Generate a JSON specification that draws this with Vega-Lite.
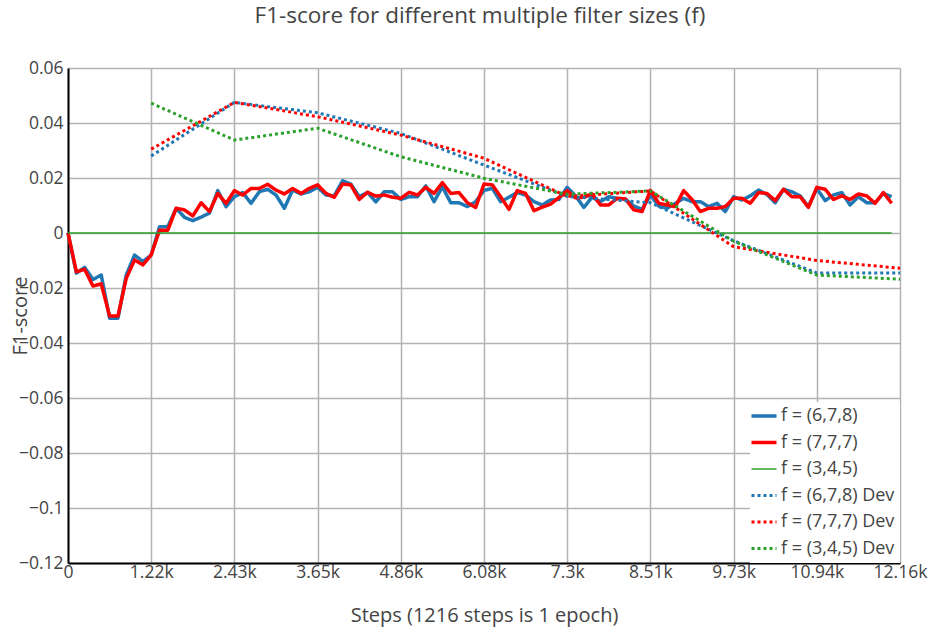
{
  "$schema": "https://vega.github.io/schema/vega-lite/v6.json",
  "width": 832,
  "height": 495,
  "autosize": {"type": "none"},
  "padding": {"left": 68, "top": 68, "right": 30, "bottom": 66},
  "background": "white",
  "config": {"view": {"stroke": null}, "font": "Open Sans"},
  "title": {"text": "F1-score for different multiple filter sizes (f)", "font": "Open Sans", "fontSize": 22.5, "fontWeight": "normal", "color": "#444", "anchor": "middle", "baseline": "alphabetic", "offset": 14, "dx": -4},
  "data": {"values": [
    {"series":"f = (6,7,8)","step":0,"f1":0},{"series":"f = (6,7,8)","step":122,"f1":-0.0146},{"series":"f = (6,7,8)","step":243,"f1":-0.0125},{"series":"f = (6,7,8)","step":365,"f1":-0.0169},{"series":"f = (6,7,8)","step":486,"f1":-0.0153},{"series":"f = (6,7,8)","step":608,"f1":-0.031},{"series":"f = (6,7,8)","step":730,"f1":-0.031},{"series":"f = (6,7,8)","step":851,"f1":-0.0153},{"series":"f = (6,7,8)","step":973,"f1":-0.008},{"series":"f = (6,7,8)","step":1094,"f1":-0.0104},
    {"series":"f = (6,7,8)","step":1216,"f1":-0.008},{"series":"f = (6,7,8)","step":1338,"f1":0.0023},{"series":"f = (6,7,8)","step":1459,"f1":0.0023},{"series":"f = (6,7,8)","step":1581,"f1":0.009},{"series":"f = (6,7,8)","step":1702,"f1":0.0057},{"series":"f = (6,7,8)","step":1824,"f1":0.0045},{"series":"f = (6,7,8)","step":1946,"f1":0.0058},{"series":"f = (6,7,8)","step":2067,"f1":0.0072},{"series":"f = (6,7,8)","step":2189,"f1":0.0154},{"series":"f = (6,7,8)","step":2310,"f1":0.0096},
    {"series":"f = (6,7,8)","step":2432,"f1":0.0132},{"series":"f = (6,7,8)","step":2554,"f1":0.0147},{"series":"f = (6,7,8)","step":2675,"f1":0.0108},{"series":"f = (6,7,8)","step":2797,"f1":0.015},{"series":"f = (6,7,8)","step":2918,"f1":0.0159},{"series":"f = (6,7,8)","step":3040,"f1":0.0138},{"series":"f = (6,7,8)","step":3162,"f1":0.009},{"series":"f = (6,7,8)","step":3283,"f1":0.0156},{"series":"f = (6,7,8)","step":3405,"f1":0.0142},{"series":"f = (6,7,8)","step":3526,"f1":0.015},
    {"series":"f = (6,7,8)","step":3648,"f1":0.0166},{"series":"f = (6,7,8)","step":3770,"f1":0.0138},{"series":"f = (6,7,8)","step":3891,"f1":0.0135},{"series":"f = (6,7,8)","step":4013,"f1":0.019},{"series":"f = (6,7,8)","step":4134,"f1":0.0178},{"series":"f = (6,7,8)","step":4256,"f1":0.0132},{"series":"f = (6,7,8)","step":4378,"f1":0.0148},{"series":"f = (6,7,8)","step":4499,"f1":0.0113},{"series":"f = (6,7,8)","step":4621,"f1":0.015},{"series":"f = (6,7,8)","step":4742,"f1":0.015},
    {"series":"f = (6,7,8)","step":4864,"f1":0.0122},{"series":"f = (6,7,8)","step":4986,"f1":0.0132},{"series":"f = (6,7,8)","step":5107,"f1":0.0132},{"series":"f = (6,7,8)","step":5229,"f1":0.0171},{"series":"f = (6,7,8)","step":5350,"f1":0.0114},{"series":"f = (6,7,8)","step":5472,"f1":0.0168},{"series":"f = (6,7,8)","step":5594,"f1":0.011},{"series":"f = (6,7,8)","step":5715,"f1":0.011},{"series":"f = (6,7,8)","step":5837,"f1":0.0096},{"series":"f = (6,7,8)","step":5958,"f1":0.0114},
    {"series":"f = (6,7,8)","step":6080,"f1":0.0155},{"series":"f = (6,7,8)","step":6202,"f1":0.0162},{"series":"f = (6,7,8)","step":6323,"f1":0.0114},{"series":"f = (6,7,8)","step":6445,"f1":0.013},{"series":"f = (6,7,8)","step":6566,"f1":0.0147},{"series":"f = (6,7,8)","step":6688,"f1":0.0138},{"series":"f = (6,7,8)","step":6810,"f1":0.0114},{"series":"f = (6,7,8)","step":6931,"f1":0.0102},{"series":"f = (6,7,8)","step":7053,"f1":0.012},{"series":"f = (6,7,8)","step":7174,"f1":0.0122},
    {"series":"f = (6,7,8)","step":7296,"f1":0.0166},{"series":"f = (6,7,8)","step":7418,"f1":0.0135},{"series":"f = (6,7,8)","step":7539,"f1":0.0093},{"series":"f = (6,7,8)","step":7661,"f1":0.013},{"series":"f = (6,7,8)","step":7782,"f1":0.0114},{"series":"f = (6,7,8)","step":7904,"f1":0.0132},{"series":"f = (6,7,8)","step":8026,"f1":0.0126},{"series":"f = (6,7,8)","step":8147,"f1":0.0123},{"series":"f = (6,7,8)","step":8269,"f1":0.0098},{"series":"f = (6,7,8)","step":8390,"f1":0.0086},
    {"series":"f = (6,7,8)","step":8512,"f1":0.0138},{"series":"f = (6,7,8)","step":8634,"f1":0.0098},{"series":"f = (6,7,8)","step":8755,"f1":0.009},{"series":"f = (6,7,8)","step":8877,"f1":0.0108},{"series":"f = (6,7,8)","step":8998,"f1":0.0126},{"series":"f = (6,7,8)","step":9120,"f1":0.0114},{"series":"f = (6,7,8)","step":9242,"f1":0.0114},{"series":"f = (6,7,8)","step":9363,"f1":0.0096},{"series":"f = (6,7,8)","step":9485,"f1":0.0108},{"series":"f = (6,7,8)","step":9606,"f1":0.0078},
    {"series":"f = (6,7,8)","step":9728,"f1":0.0132},{"series":"f = (6,7,8)","step":9850,"f1":0.012},{"series":"f = (6,7,8)","step":9971,"f1":0.0135},{"series":"f = (6,7,8)","step":10093,"f1":0.0156},{"series":"f = (6,7,8)","step":10214,"f1":0.014},{"series":"f = (6,7,8)","step":10336,"f1":0.011},{"series":"f = (6,7,8)","step":10458,"f1":0.0159},{"series":"f = (6,7,8)","step":10579,"f1":0.015},{"series":"f = (6,7,8)","step":10701,"f1":0.0135},{"series":"f = (6,7,8)","step":10822,"f1":0.0096},
    {"series":"f = (6,7,8)","step":10944,"f1":0.0162},{"series":"f = (6,7,8)","step":11066,"f1":0.0118},{"series":"f = (6,7,8)","step":11187,"f1":0.0138},{"series":"f = (6,7,8)","step":11309,"f1":0.0147},{"series":"f = (6,7,8)","step":11430,"f1":0.0102},{"series":"f = (6,7,8)","step":11552,"f1":0.0132},{"series":"f = (6,7,8)","step":11674,"f1":0.011},{"series":"f = (6,7,8)","step":11795,"f1":0.011},{"series":"f = (6,7,8)","step":11917,"f1":0.0144},{"series":"f = (6,7,8)","step":12038,"f1":0.0132},

    {"series":"f = (7,7,7)","step":0,"f1":0},{"series":"f = (7,7,7)","step":122,"f1":-0.0141},{"series":"f = (7,7,7)","step":243,"f1":-0.0132},{"series":"f = (7,7,7)","step":365,"f1":-0.0193},{"series":"f = (7,7,7)","step":486,"f1":-0.0185},{"series":"f = (7,7,7)","step":608,"f1":-0.0302},{"series":"f = (7,7,7)","step":730,"f1":-0.0302},{"series":"f = (7,7,7)","step":851,"f1":-0.0165},{"series":"f = (7,7,7)","step":973,"f1":-0.0098},{"series":"f = (7,7,7)","step":1094,"f1":-0.0116},
    {"series":"f = (7,7,7)","step":1216,"f1":-0.008},{"series":"f = (7,7,7)","step":1338,"f1":0.001},{"series":"f = (7,7,7)","step":1459,"f1":0.001},{"series":"f = (7,7,7)","step":1581,"f1":0.009},{"series":"f = (7,7,7)","step":1702,"f1":0.0084},{"series":"f = (7,7,7)","step":1824,"f1":0.0062},{"series":"f = (7,7,7)","step":1946,"f1":0.011},{"series":"f = (7,7,7)","step":2067,"f1":0.0078},{"series":"f = (7,7,7)","step":2189,"f1":0.0144},{"series":"f = (7,7,7)","step":2310,"f1":0.0108},
    {"series":"f = (7,7,7)","step":2432,"f1":0.0154},{"series":"f = (7,7,7)","step":2554,"f1":0.0138},{"series":"f = (7,7,7)","step":2675,"f1":0.0162},{"series":"f = (7,7,7)","step":2797,"f1":0.0162},{"series":"f = (7,7,7)","step":2918,"f1":0.0177},{"series":"f = (7,7,7)","step":3040,"f1":0.0156},{"series":"f = (7,7,7)","step":3162,"f1":0.0142},{"series":"f = (7,7,7)","step":3283,"f1":0.0162},{"series":"f = (7,7,7)","step":3405,"f1":0.0144},{"series":"f = (7,7,7)","step":3526,"f1":0.0162},
    {"series":"f = (7,7,7)","step":3648,"f1":0.0175},{"series":"f = (7,7,7)","step":3770,"f1":0.0144},{"series":"f = (7,7,7)","step":3891,"f1":0.013},{"series":"f = (7,7,7)","step":4013,"f1":0.0178},{"series":"f = (7,7,7)","step":4134,"f1":0.0175},{"series":"f = (7,7,7)","step":4256,"f1":0.0122},{"series":"f = (7,7,7)","step":4378,"f1":0.0148},{"series":"f = (7,7,7)","step":4499,"f1":0.0134},{"series":"f = (7,7,7)","step":4621,"f1":0.0138},{"series":"f = (7,7,7)","step":4742,"f1":0.013},
    {"series":"f = (7,7,7)","step":4864,"f1":0.0126},{"series":"f = (7,7,7)","step":4986,"f1":0.0148},{"series":"f = (7,7,7)","step":5107,"f1":0.0138},{"series":"f = (7,7,7)","step":5229,"f1":0.0166},{"series":"f = (7,7,7)","step":5350,"f1":0.0144},{"series":"f = (7,7,7)","step":5472,"f1":0.0183},{"series":"f = (7,7,7)","step":5594,"f1":0.0144},{"series":"f = (7,7,7)","step":5715,"f1":0.0147},{"series":"f = (7,7,7)","step":5837,"f1":0.011},{"series":"f = (7,7,7)","step":5958,"f1":0.0093},
    {"series":"f = (7,7,7)","step":6080,"f1":0.0178},{"series":"f = (7,7,7)","step":6202,"f1":0.0175},{"series":"f = (7,7,7)","step":6323,"f1":0.0132},{"series":"f = (7,7,7)","step":6445,"f1":0.0086},{"series":"f = (7,7,7)","step":6566,"f1":0.0154},{"series":"f = (7,7,7)","step":6688,"f1":0.0144},{"series":"f = (7,7,7)","step":6810,"f1":0.0081},{"series":"f = (7,7,7)","step":6931,"f1":0.0094},{"series":"f = (7,7,7)","step":7053,"f1":0.0105},{"series":"f = (7,7,7)","step":7174,"f1":0.0129},
    {"series":"f = (7,7,7)","step":7296,"f1":0.0154},{"series":"f = (7,7,7)","step":7418,"f1":0.0128},{"series":"f = (7,7,7)","step":7539,"f1":0.013},{"series":"f = (7,7,7)","step":7661,"f1":0.0142},{"series":"f = (7,7,7)","step":7782,"f1":0.0102},{"series":"f = (7,7,7)","step":7904,"f1":0.0102},{"series":"f = (7,7,7)","step":8026,"f1":0.0126},{"series":"f = (7,7,7)","step":8147,"f1":0.0124},{"series":"f = (7,7,7)","step":8269,"f1":0.0084},{"series":"f = (7,7,7)","step":8390,"f1":0.0078},
    {"series":"f = (7,7,7)","step":8512,"f1":0.0155},{"series":"f = (7,7,7)","step":8634,"f1":0.0108},{"series":"f = (7,7,7)","step":8755,"f1":0.0102},{"series":"f = (7,7,7)","step":8877,"f1":0.0096},{"series":"f = (7,7,7)","step":8998,"f1":0.0154},{"series":"f = (7,7,7)","step":9120,"f1":0.0122},{"series":"f = (7,7,7)","step":9242,"f1":0.0078},{"series":"f = (7,7,7)","step":9363,"f1":0.009},{"series":"f = (7,7,7)","step":9485,"f1":0.009},{"series":"f = (7,7,7)","step":9606,"f1":0.0096},
    {"series":"f = (7,7,7)","step":9728,"f1":0.0126},{"series":"f = (7,7,7)","step":9850,"f1":0.0126},{"series":"f = (7,7,7)","step":9971,"f1":0.0108},{"series":"f = (7,7,7)","step":10093,"f1":0.0147},{"series":"f = (7,7,7)","step":10214,"f1":0.0144},{"series":"f = (7,7,7)","step":10336,"f1":0.0118},{"series":"f = (7,7,7)","step":10458,"f1":0.0159},{"series":"f = (7,7,7)","step":10579,"f1":0.0132},{"series":"f = (7,7,7)","step":10701,"f1":0.0132},{"series":"f = (7,7,7)","step":10822,"f1":0.0093},
    {"series":"f = (7,7,7)","step":10944,"f1":0.0166},{"series":"f = (7,7,7)","step":11066,"f1":0.0159},{"series":"f = (7,7,7)","step":11187,"f1":0.0122},{"series":"f = (7,7,7)","step":11309,"f1":0.0135},{"series":"f = (7,7,7)","step":11430,"f1":0.0122},{"series":"f = (7,7,7)","step":11552,"f1":0.0142},{"series":"f = (7,7,7)","step":11674,"f1":0.0135},{"series":"f = (7,7,7)","step":11795,"f1":0.0108},{"series":"f = (7,7,7)","step":11917,"f1":0.0147},{"series":"f = (7,7,7)","step":12038,"f1":0.0108},

    {"series":"f = (3,4,5)","step":0,"f1":0},{"series":"f = (3,4,5)","step":122,"f1":0},{"series":"f = (3,4,5)","step":243,"f1":0},{"series":"f = (3,4,5)","step":365,"f1":0},{"series":"f = (3,4,5)","step":486,"f1":0},{"series":"f = (3,4,5)","step":608,"f1":0},{"series":"f = (3,4,5)","step":730,"f1":0},{"series":"f = (3,4,5)","step":851,"f1":0},{"series":"f = (3,4,5)","step":973,"f1":0},{"series":"f = (3,4,5)","step":1094,"f1":0},
    {"series":"f = (3,4,5)","step":1216,"f1":0},{"series":"f = (3,4,5)","step":1338,"f1":0},{"series":"f = (3,4,5)","step":1459,"f1":0},{"series":"f = (3,4,5)","step":1581,"f1":0},{"series":"f = (3,4,5)","step":1702,"f1":0},{"series":"f = (3,4,5)","step":1824,"f1":0},{"series":"f = (3,4,5)","step":1946,"f1":0},{"series":"f = (3,4,5)","step":2067,"f1":0},{"series":"f = (3,4,5)","step":2189,"f1":0},{"series":"f = (3,4,5)","step":2310,"f1":0},
    {"series":"f = (3,4,5)","step":2432,"f1":0},{"series":"f = (3,4,5)","step":2554,"f1":0},{"series":"f = (3,4,5)","step":2675,"f1":0},{"series":"f = (3,4,5)","step":2797,"f1":0},{"series":"f = (3,4,5)","step":2918,"f1":0},{"series":"f = (3,4,5)","step":3040,"f1":0},{"series":"f = (3,4,5)","step":3162,"f1":0},{"series":"f = (3,4,5)","step":3283,"f1":0},{"series":"f = (3,4,5)","step":3405,"f1":0},{"series":"f = (3,4,5)","step":3526,"f1":0},
    {"series":"f = (3,4,5)","step":3648,"f1":0},{"series":"f = (3,4,5)","step":3770,"f1":0},{"series":"f = (3,4,5)","step":3891,"f1":0},{"series":"f = (3,4,5)","step":4013,"f1":0},{"series":"f = (3,4,5)","step":4134,"f1":0},{"series":"f = (3,4,5)","step":4256,"f1":0},{"series":"f = (3,4,5)","step":4378,"f1":0},{"series":"f = (3,4,5)","step":4499,"f1":0},{"series":"f = (3,4,5)","step":4621,"f1":0},{"series":"f = (3,4,5)","step":4742,"f1":0},
    {"series":"f = (3,4,5)","step":4864,"f1":0},{"series":"f = (3,4,5)","step":4986,"f1":0},{"series":"f = (3,4,5)","step":5107,"f1":0},{"series":"f = (3,4,5)","step":5229,"f1":0},{"series":"f = (3,4,5)","step":5350,"f1":0},{"series":"f = (3,4,5)","step":5472,"f1":0},{"series":"f = (3,4,5)","step":5594,"f1":0},{"series":"f = (3,4,5)","step":5715,"f1":0},{"series":"f = (3,4,5)","step":5837,"f1":0},{"series":"f = (3,4,5)","step":5958,"f1":0},
    {"series":"f = (3,4,5)","step":6080,"f1":0},{"series":"f = (3,4,5)","step":6202,"f1":0},{"series":"f = (3,4,5)","step":6323,"f1":0},{"series":"f = (3,4,5)","step":6445,"f1":0},{"series":"f = (3,4,5)","step":6566,"f1":0},{"series":"f = (3,4,5)","step":6688,"f1":0},{"series":"f = (3,4,5)","step":6810,"f1":0},{"series":"f = (3,4,5)","step":6931,"f1":0},{"series":"f = (3,4,5)","step":7053,"f1":0},{"series":"f = (3,4,5)","step":7174,"f1":0},
    {"series":"f = (3,4,5)","step":7296,"f1":0},{"series":"f = (3,4,5)","step":7418,"f1":0},{"series":"f = (3,4,5)","step":7539,"f1":0},{"series":"f = (3,4,5)","step":7661,"f1":0},{"series":"f = (3,4,5)","step":7782,"f1":0},{"series":"f = (3,4,5)","step":7904,"f1":0},{"series":"f = (3,4,5)","step":8026,"f1":0},{"series":"f = (3,4,5)","step":8147,"f1":0},{"series":"f = (3,4,5)","step":8269,"f1":0},{"series":"f = (3,4,5)","step":8390,"f1":0},
    {"series":"f = (3,4,5)","step":8512,"f1":0},{"series":"f = (3,4,5)","step":8634,"f1":0},{"series":"f = (3,4,5)","step":8755,"f1":0},{"series":"f = (3,4,5)","step":8877,"f1":0},{"series":"f = (3,4,5)","step":8998,"f1":0},{"series":"f = (3,4,5)","step":9120,"f1":0},{"series":"f = (3,4,5)","step":9242,"f1":0},{"series":"f = (3,4,5)","step":9363,"f1":0},{"series":"f = (3,4,5)","step":9485,"f1":0},{"series":"f = (3,4,5)","step":9606,"f1":0},
    {"series":"f = (3,4,5)","step":9728,"f1":0},{"series":"f = (3,4,5)","step":9850,"f1":0},{"series":"f = (3,4,5)","step":9971,"f1":0},{"series":"f = (3,4,5)","step":10093,"f1":0},{"series":"f = (3,4,5)","step":10214,"f1":0},{"series":"f = (3,4,5)","step":10336,"f1":0},{"series":"f = (3,4,5)","step":10458,"f1":0},{"series":"f = (3,4,5)","step":10579,"f1":0},{"series":"f = (3,4,5)","step":10701,"f1":0},{"series":"f = (3,4,5)","step":10822,"f1":0},
    {"series":"f = (3,4,5)","step":10944,"f1":0},{"series":"f = (3,4,5)","step":11066,"f1":0},{"series":"f = (3,4,5)","step":11187,"f1":0},{"series":"f = (3,4,5)","step":11309,"f1":0},{"series":"f = (3,4,5)","step":11430,"f1":0},{"series":"f = (3,4,5)","step":11552,"f1":0},{"series":"f = (3,4,5)","step":11674,"f1":0},{"series":"f = (3,4,5)","step":11795,"f1":0},{"series":"f = (3,4,5)","step":11917,"f1":0},{"series":"f = (3,4,5)","step":12038,"f1":0},

    {"series":"f = (6,7,8) Dev","step":1216,"f1":0.028},{"series":"f = (6,7,8) Dev","step":2432,"f1":0.0475},{"series":"f = (6,7,8) Dev","step":3648,"f1":0.0437},{"series":"f = (6,7,8) Dev","step":4864,"f1":0.0362},{"series":"f = (6,7,8) Dev","step":6080,"f1":0.0247},{"series":"f = (6,7,8) Dev","step":7296,"f1":0.0133},{"series":"f = (6,7,8) Dev","step":8512,"f1":0.011},{"series":"f = (6,7,8) Dev","step":9728,"f1":-0.0028},{"series":"f = (6,7,8) Dev","step":10944,"f1":-0.0145},{"series":"f = (6,7,8) Dev","step":12160,"f1":-0.0145},
    {"series":"f = (7,7,7) Dev","step":1216,"f1":0.0305},{"series":"f = (7,7,7) Dev","step":2432,"f1":0.0475},{"series":"f = (7,7,7) Dev","step":3648,"f1":0.0423},{"series":"f = (7,7,7) Dev","step":4864,"f1":0.0356},{"series":"f = (7,7,7) Dev","step":6080,"f1":0.0272},{"series":"f = (7,7,7) Dev","step":7296,"f1":0.0133},{"series":"f = (7,7,7) Dev","step":8512,"f1":0.0153},{"series":"f = (7,7,7) Dev","step":9728,"f1":-0.005},{"series":"f = (7,7,7) Dev","step":10944,"f1":-0.01},{"series":"f = (7,7,7) Dev","step":12160,"f1":-0.0128},
    {"series":"f = (3,4,5) Dev","step":1216,"f1":0.0472},{"series":"f = (3,4,5) Dev","step":2432,"f1":0.0338},{"series":"f = (3,4,5) Dev","step":3648,"f1":0.0381},{"series":"f = (3,4,5) Dev","step":4864,"f1":0.0277},{"series":"f = (3,4,5) Dev","step":6080,"f1":0.0199},{"series":"f = (3,4,5) Dev","step":7296,"f1":0.0141},{"series":"f = (3,4,5) Dev","step":8512,"f1":0.0153},{"series":"f = (3,4,5) Dev","step":9728,"f1":-0.003},{"series":"f = (3,4,5) Dev","step":10944,"f1":-0.0153},{"series":"f = (3,4,5) Dev","step":12160,"f1":-0.0168}
  ]},
  "mark": {"type": "line", "strokeCap": "butt", "strokeJoin": "round"},
  "encoding": {
    "x": {
      "field": "step", "type": "quantitative",
      "scale": {"domain": [0, 12160], "nice": false, "zero": false},
      "axis": {
        "values": [0, 1216, 2432, 3648, 4864, 6080, 7296, 8512, 9728, 10944, 12160],
        "labelExpr": "datum.value == 0 ? '0' : format(datum.value / 1000, '.2~f') + 'k'",
        "title": "Steps (1216 steps is 1 epoch)",
        "grid": true, "gridColor": "#b3b3b3", "gridWidth": 1.5,
        "ticks": false, "tickSize": 0,
        "domainColor": "#000000", "domainWidth": 2,
        "labelFont": "Open Sans", "labelFontSize": 17.5, "labelColor": "#444",
        "labelBaseline": "alphabetic", "labelPadding": 14, "labelFlush": false, "labelOverlap": false,
        "titleFont": "Open Sans", "titleFontSize": 20, "titleFontWeight": "normal", "titleColor": "#444",
        "titleBaseline": "alphabetic", "titleY": 58
      }
    },
    "y": {
      "field": "f1", "type": "quantitative",
      "scale": {"domain": [-0.12, 0.06], "nice": false, "zero": false},
      "axis": {
        "values": [-0.12, -0.1, -0.08, -0.06, -0.04, -0.02, 0, 0.02, 0.04, 0.06],
        "format": ".2~f",
        "title": "F1-score",
        "grid": true, "gridColor": "#b3b3b3", "gridWidth": 1.5,
        "ticks": false, "tickSize": 0,
        "domainColor": "#000000", "domainWidth": 2,
        "labelFont": "Open Sans", "labelFontSize": 17.5, "labelColor": "#444",
        "labelPadding": 5, "labelFlush": false, "labelOverlap": false,
        "titleFont": "Open Sans", "titleFontSize": 20, "titleFontWeight": "normal", "titleColor": "#444",
        "titleAngle": 270, "titleBaseline": "alphabetic", "titleAlign": "center", "titleX": -42, "titleY": 247.5
      }
    },
    "color": {
      "field": "series", "type": "nominal",
      "scale": {
        "domain": ["f = (6,7,8)", "f = (7,7,7)", "f = (3,4,5)", "f = (6,7,8) Dev", "f = (7,7,7) Dev", "f = (3,4,5) Dev"],
        "range": ["#1f77b4", "#ff0000", "#2ca02c", "#1f77b4", "#ff0000", "#2ca02c"]
      },
      "legend": {
        "title": null, "orient": "bottom-right", "offset": 0,
        "fillColor": "white", "padding": 5,
        "symbolType": "stroke", "symbolSize": 625, "symbolStrokeWidth": 3,
        "labelFont": "Open Sans", "labelFontSize": 18, "labelColor": "#444",
        "labelOffset": 8, "rowPadding": 8.5,
        "encode": {"symbols": {"update": {"strokeWidth": {"signal": "datum.value === 'f = (3,4,5)' ? 1.5 : (datum.value === 'f = (6,7,8)' || datum.value === 'f = (7,7,7)') ? 3.5 : 3"}}}}
      }
    },
    "strokeDash": {
      "field": "series", "type": "nominal",
      "scale": {
        "domain": ["f = (6,7,8)", "f = (7,7,7)", "f = (3,4,5)", "f = (6,7,8) Dev", "f = (7,7,7) Dev", "f = (3,4,5) Dev"],
        "range": [[1, 0], [1, 0], [1, 0], [3, 3], [3, 3], [3, 3]]
      }
    },
    "strokeWidth": {
      "condition": [
        {"test": "datum.series === 'f = (3,4,5)'", "value": 1.5},
        {"test": "indexof(datum.series, 'Dev') >= 0", "value": 3}
      ],
      "value": 3.5
    }
  }
}
